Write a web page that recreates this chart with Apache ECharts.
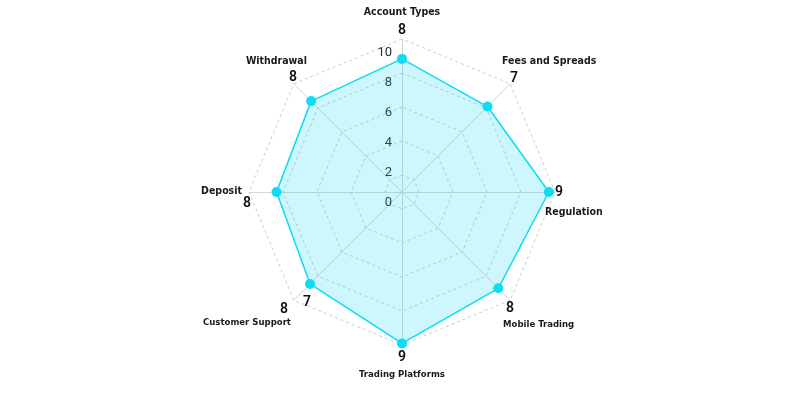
<!DOCTYPE html>
<html>
<head>
<meta charset="utf-8">
<script src="https://cdn.jsdelivr.net/npm/echarts@6/dist/echarts.min.js"></script>
<style>
  html, body { margin: 0; padding: 0; background: #fff; }
  #chart { width: 800px; height: 400px; }
</style>
</head>
<body>
<div id="chart"></div>
<script>
// indicators go counter-clockwise from the top, like echarts does
const indicatorNames = ['Account Types', 'Withdrawal', 'Deposit', 'Customer Support',
  'Trading Platforms', 'Mobile Trading', 'Regulation', 'Fees and Spreads'];
const scores = [8, 8, 8, 8, 9, 8, 9, 7];
const values = [8.7, 8.4, 8.2, 8.5, 9.9, 8.9, 9.6, 7.9];
const pointLabels = ['', '', '', '7', '', '', '', ''];
const tickValues = [0, 2, 4, 6, 8, 10];

const cyan = '#0fdcf3';
const nameFont = "'DejaVu Sans Condensed', 'Roboto', sans-serif";

// padding [top, right, bottom, left] for name (n) and score (s) lines, name font size (fs)
const nameLayout = [
  { nameFirst: true,  fs: 10.5, n: [0, 0, 0, 0],   s: [5, 0, 22, 0] },
  { nameFirst: true,  fs: 10.5, n: [0, 1, 0, 0],   s: [4, 11, 55, 0] },
  { nameFirst: true,  fs: 10.5, n: [12, 27, 0, 0], s: [0, 18, 0, 0] },
  { nameFirst: false, fs: 9.5,  n: [1, 17, 0, 0],  s: [58, 20, 0, 0] },
  { nameFirst: false, fs: 9.5,  n: [6, 0, 0, 0],   s: [25, 0, 0, 0] },
  { nameFirst: false, fs: 9.5,  n: [4, 0, 0, 7],   s: [59, 0, 0, 10] },
  { nameFirst: false, fs: 10.5, n: [7, 0, 0, 10],  s: [19, 0, 0, 20] },
  { nameFirst: true,  fs: 10.5, n: [0, 0, 0, 6],   s: [5, 0, 54, 14] }
];

const rich = {};
nameLayout.forEach((l, i) => {
  rich['n' + i] = { fontSize: l.fs, fontWeight: 'bold', fontFamily: nameFont, color: '#1a1a1a', padding: l.n };
  rich['s' + i] = { fontSize: 14, fontWeight: 600, fontFamily: 'Roboto', color: '#111', padding: l.s };
});

const chart = echarts.init(document.getElementById('chart'));

const option = {
  backgroundColor: '#fff',
  animation: false,
  radar: [
    {
      center: [402, 192],
      radius: 153,
      startAngle: 90,
      splitNumber: 9,
      indicator: indicatorNames.map(n => ({ name: n, min: 0, max: 10 })),
      nameGap: -20,
      axisName: {
        formatter: function (name) {
          const i = indicatorNames.indexOf(name);
          const n = '{n' + i + '|' + name + '}';
          const s = '{s' + i + '|' + scores[i] + '}';
          return nameLayout[i].nameFirst ? n + '\n' + s : s + '\n' + n;
        },
        rich: rich
      },
      axisLine: { lineStyle: { color: '#d6d6d6', width: 1 } },
      splitLine: { lineStyle: { color: ['rgba(0,0,0,0)', '#cdcdcd'], type: [3, 3], width: 1 } },
      splitArea: { show: false },
      axisLabel: { show: false }
    },
    {
      // only carries the 0..10 tick labels
      center: [402, 203],
      radius: 150,
      startAngle: 90,
      splitNumber: tickValues.length - 1,
      indicator: indicatorNames.map((n, i) => ({
        name: n, min: tickValues[0], max: tickValues[tickValues.length - 1],
        axisLabel: { show: i === 0 }
      })),
      axisName: { show: false },
      axisLine: { show: false },
      axisTick: { show: false },
      splitLine: { show: false },
      splitArea: { show: false },
      axisLabel: { show: false, color: '#2b2b2b', fontSize: 13, margin: 10, fontFamily: 'Roboto' }
    }
  ],
  series: [
    {
      type: 'radar',
      radarIndex: 0,
      symbol: 'circle',
      symbolSize: 10,
      lineStyle: { color: cyan, width: 1.5 },
      itemStyle: { color: cyan },
      areaStyle: { color: 'rgba(0, 212, 238, 0.28)' },
      label: {
        show: true,
        position: 'bottom',
        distance: 7,
        offset: [-3, 0],
        fontSize: 14,
        fontWeight: 600,
        fontFamily: 'Roboto',
        color: '#111',
        formatter: function (p) {
          return pointLabels[values.indexOf(p.value)];
        }
      },
      data: [{ value: values, name: 'Score' }]
    }
  ]
};

chart.setOption(option);
</script>
</body>
</html>
